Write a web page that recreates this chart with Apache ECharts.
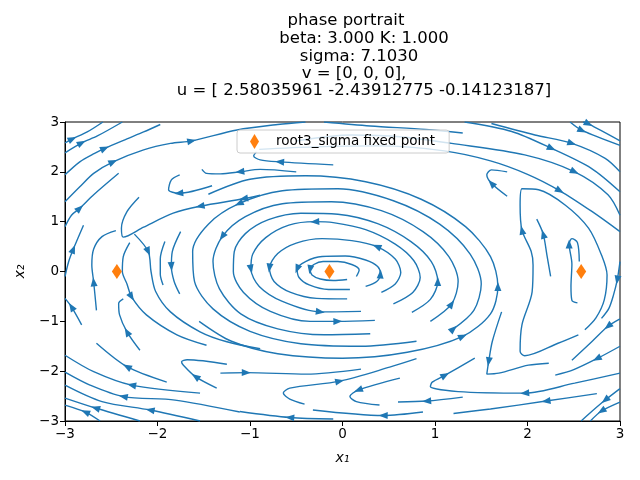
<!DOCTYPE html>
<html>
<head>
<meta charset="utf-8">
<script src="https://cdn.jsdelivr.net/npm/echarts@6/dist/echarts.min.js"></script>
<style>
  html, body { margin: 0; background: #fff; }
  #c { width: 640px; height: 480px; }
</style>
</head>
<body>
<div id="c"></div>
<script>
// 标题文字（多行）
const titleLines = [
    'phase portrait',
    'beta: 3.000 K: 1.000',
    'sigma: 7.1030',
    'v = [0, 0, 0],',
    'u = [ 2.58035961 -2.43912775 -0.14123187]'
]
const legendName = 'root3_sigma fixed point'
const xTicks = [-3, -2, -1, 0, 1, 2, 3]
const yTicks = [-3, -2, -1, 0, 1, 2, 3]

// 不动点 (x1, x2)
const fixedPoints = [[2.58035961, 0], [-2.43912775, 0], [-0.14123187, 0]]

// 流线：点 (x1, x2)，按流动方向排列
// 中心附近的环
const centerLoops = [
    [[0.15, -0.1], [0.18, 0.03], [0.1, 0.14], [-0.05, 0.2], [-0.21, 0.2], [-0.31, 0.14], [-0.35, 0.04], [-0.33, -0.07], [-0.24, -0.15], [-0.1, -0.18], [0.05, -0.16]],
    [[0.25, -0.3], [0.37, -0.2], [0.41, -0.05], [0.38, 0.1], [0.25, 0.23], [0.03, 0.31], [-0.22, 0.3], [-0.4, 0.2], [-0.49, 0.05], [-0.47, -0.12], [-0.36, -0.27], [-0.15, -0.36], [0.08, -0.36]],
    [[0.42, -0.42], [0.57, -0.25], [0.63, -0.02], [0.57, 0.25], [0.37, 0.5], [0.1, 0.62], [-0.22, 0.66], [-0.5, 0.57], [-0.7, 0.36], [-0.79, 0.07], [-0.74, -0.2], [-0.56, -0.42], [-0.28, -0.54], [0.05, -0.55]],
    [[0.55, -0.65], [0.76, -0.42], [0.84, -0.12], [0.77, 0.22], [0.57, 0.55], [0.25, 0.84], [-0.1, 0.98], [-0.3, 1.0], [-0.58, 0.93], [-0.83, 0.68], [-0.97, 0.35], [-0.99, 0.05], [-0.9, -0.3], [-0.65, -0.6], [-0.24, -0.81], [0.2, -0.8]],
    [[0.75, -0.82], [0.95, -0.56], [1.03, -0.2], [0.96, 0.2], [0.74, 0.6], [0.38, 0.96], [-0.05, 1.15], [-0.45, 1.17], [-0.8, 1.04], [-1.05, 0.76], [-1.17, 0.4], [-1.18, 0.0], [-1.07, -0.42], [-0.78, -0.8], [-0.35, -1.0], [-0.05, -1.0], [0.35, -0.98]],
    [[0.95, -1.0], [1.18, -0.65], [1.25, -0.2], [1.15, 0.3], [0.87, 0.8], [0.42, 1.22], [-0.12, 1.4], [-0.65, 1.36], [-1.05, 1.1], [-1.3, 0.7], [-1.4, 0.2], [-1.33, -0.35], [-1.1, -0.85], [-0.7, -1.15], [-0.2, -1.27], [0.3, -1.25]],
    [[1.2, -1.15], [1.42, -0.78], [1.5, -0.25], [1.38, 0.35], [1.05, 0.95], [0.55, 1.42], [-0.05, 1.66], [-0.65, 1.62], [-1.12, 1.36], [-1.45, 0.95], [-1.62, 0.4], [-1.6, -0.2], [-1.4, -0.75], [-1.0, -1.2], [-0.45, -1.45], [0.2, -1.5], [0.8, -1.4]],
    [[-1.55, -1.0], [-1.2, -1.4], [-0.7, -1.65], [0.0, -1.74], [0.7, -1.62], [1.3, -1.3], [1.6, -0.85], [1.68, -0.3], [1.6, 0.3], [1.33, 0.9], [0.85, 1.45], [0.25, 1.8], [-0.4, 1.92], [-1.0, 1.85], [-1.45, 1.55]]
]
const centerArrows = [[6], [2, 8], [4, 9], [7, 11, 14], [2, 15], [1, 9], [0, 8], [5, 7]]

// 左侧不动点附近
const leftLines = [
    [[-2.66, -0.78], [-2.69, -0.21], [-2.71, 0.13], [-2.69, 0.45], [-2.6, 0.7], [-2.45, 0.82]],
    [[-2.3, 0.58], [-2.37, 0.3], [-2.38, 0.0], [-2.33, -0.25], [-2.28, -0.51], [-2.12, -0.87], [-1.79, -1.27], [-1.47, -1.48]],
    [[-2.19, -1.58], [-2.33, -1.21], [-2.41, -0.87], [-2.42, -0.64], [-2.37, -0.55]],
    [[-2.25, 0.75], [-2.1, 0.4], [-2.07, 0.0], [-2.02, -0.4], [-1.86, -0.81], [-1.54, -1.21], [-1.25, -1.41], [-0.89, -1.55]],
    [[-1.92, 0.6], [-1.97, 0.25], [-1.97, -0.05], [-1.94, -0.27]],
    [[-1.75, 0.8], [-1.84, 0.4], [-1.85, 0.1], [-1.82, -0.2], [-1.76, -0.45]],
    [[-2.82, -1.07], [-2.93, -0.71], [-3.0, -0.54]],
    [[-3.0, -0.1], [-2.96, 0.2], [-2.91, 0.45], [-2.8, 0.93]],
    [[-3.0, 0.9], [-2.93, 1.13], [-2.84, 1.27], [-2.69, 1.54], [-2.42, 1.97]],
    [[-0.89, 1.53], [-1.07, 1.46], [-1.54, 1.31], [-1.83, 1.17], [-2.15, 0.89], [-2.37, 0.69], [-2.39, 0.87], [-2.33, 1.2], [-2.2, 1.49]],
    [[-1.41, 1.72], [-1.77, 1.57], [-1.88, 1.64], [-1.85, 1.84], [-1.76, 1.94]],
    [[-0.5, 2.0], [-0.89, 2.05], [-1.11, 2.0], [-1.32, 1.96], [-1.47, 1.97], [-1.52, 2.05]],
    [[-0.1, 2.14], [-0.68, 2.2], [-0.89, 2.24], [-0.96, 2.32], [-0.93, 2.4]]
]
const leftArrows = [[1], [4], [1], [1], [], [2], [1], [2], [2], [1, 2], [1], [2], [1]]

// 上方
const topLines = [
    [[-3, 2.58], [-2.92, 2.66], [-2.76, 2.8], [-2.59, 3.0]],
    [[-3, 2.38], [-2.82, 2.58], [-2.65, 2.72], [-2.38, 3.0]],
    [[-3, 1.94], [-2.84, 2.2], [-2.68, 2.37], [-2.57, 2.47], [-2.33, 2.66], [-2.15, 2.8], [-1.97, 2.95]],
    [[-3, 1.4], [-2.84, 1.7], [-2.69, 1.97], [-2.48, 2.2], [-2.15, 2.44], [-1.86, 2.57], [-1.63, 2.62], [-1.14, 2.84], [-0.7, 2.95], [-0.4, 3.0]],
    [[-0.9, 2.45], [-0.3, 2.5], [0.4, 2.52], [1.1, 2.42], [1.6, 2.22], [2.0, 1.95], [2.35, 1.62], [2.7, 1.2], [3.0, 0.8]],
    [[-0.5, 2.62], [0.1, 2.74], [0.65, 2.7], [1.18, 2.57], [1.97, 2.34], [2.51, 2.0], [2.87, 1.54], [3.0, 1.13]],
    [[-0.2, 3.0], [0.3, 2.92], [0.9, 2.85], [1.3, 2.78]],
    [[1.32, 3.0], [1.83, 2.81], [2.26, 2.47], [2.69, 2.07], [3.0, 1.6]],
    [[1.61, 2.97], [2.08, 2.74], [2.48, 2.57], [2.84, 2.27], [3.0, 2.0]],
    [[2.46, 3.0], [2.59, 2.83], [3.0, 2.53]],
    [[2.6, 3.0], [2.66, 2.96], [3.0, 2.62]],
    [[1.78, 1.51], [1.61, 1.77], [1.56, 1.94], [1.61, 2.04], [1.78, 2.0]]
]
const topArrows = [[1], [1], [3], [3, 6], [6], [5], [], [2], [2], [1], [1], [1]]

// 右侧不动点附近
const rightLines = [
    [[2.54, -0.63], [2.48, -0.58], [2.47, -0.3], [2.48, 0.15], [2.45, 0.55], [2.48, 0.66], [2.54, 0.58], [2.56, 0.2]],
    [[2.25, -0.1], [2.21, 0.33], [2.17, 0.75], [2.1, 1.05]],
    [[2.55, -1.27], [2.33, -1.44], [1.97, -1.69], [1.92, -1.6], [1.94, -1.07], [2.05, -0.41], [2.06, 0.13], [2.04, 0.4], [1.94, 0.83], [1.92, 1.33], [1.94, 1.66], [2.12, 1.64], [2.41, 1.33], [2.66, 0.87], [2.8, 0.33], [2.86, -0.07], [2.83, -0.57], [2.74, -0.93], [2.62, -1.17]],
    [[3.0, 0.2], [2.97, -0.17], [2.93, -0.47], [2.88, -0.74], [2.8, -0.94]],
    [[3.0, -0.95], [2.87, -1.1], [2.7, -1.4], [2.48, -1.78]],
    [[3.0, -1.5], [2.75, -1.75], [2.5, -1.97], [2.3, -2.08]],
    [[3.0, -2.04], [2.51, -2.24], [1.97, -2.44], [1.25, -2.41], [0.95, -2.31], [0.97, -2.22], [1.11, -2.08], [1.43, -1.74]],
    [[1.72, -0.81], [1.62, -1.4], [1.58, -1.81], [1.56, -2.06], [1.69, -2.04], [2.01, -1.88], [2.23, -1.84]],
    [[3.0, -2.35], [2.84, -2.58], [2.7, -2.8], [2.58, -3.0]],
    [[3.0, -2.62], [2.8, -2.8], [2.68, -3.0]],
    [[2.75, -2.45], [2.2, -2.6], [1.6, -2.76], [1.2, -2.85]]
]
const rightArrows = [[4], [2], [8], [1], [1], [1], [2, 6], [2], [1], [1], [1]]

// 下方
const bottomLines = [
    [[-0.41, -2.66], [-0.57, -2.56], [-0.64, -2.44], [-0.57, -2.34], [-0.03, -2.2], [0.51, -1.92], [0.8, -1.75]],
    [[0.62, -2.14], [0.17, -2.38], [0.08, -2.51], [0.15, -2.61], [0.4, -2.68]],
    [[1.3, -2.52], [0.91, -2.6], [0.6, -2.62]],
    [[0.87, -2.82], [0.44, -2.89], [-0.32, -2.78]],
    [[-0.1, -2.96], [-0.57, -2.93], [-1.11, -2.81]],
    [[-1.32, -2.04], [-1.04, -2.03], [-0.39, -2.06], [0.2, -1.96]],
    [[-1.36, -2.34], [-1.59, -2.11], [-1.72, -1.88], [-1.74, -1.81], [-1.68, -1.77], [-1.25, -1.86]],
    [[-1.9, -2.22], [-2.33, -1.91], [-2.66, -1.44]],
    [[-1.54, -2.44], [-2.28, -2.28], [-2.69, -2.01], [-3.0, -1.68]],
    [[-1.11, -2.82], [-1.81, -2.58], [-2.37, -2.51], [-2.73, -2.28], [-3.0, -2.02]],
    [[-1.54, -3.0], [-2.08, -2.78], [-2.6, -2.61], [-3.0, -2.28]],
    [[-2.19, -3.0], [-2.67, -2.74], [-3.0, -2.54]],
    [[-2.62, -3.0], [-2.78, -2.82], [-3.0, -2.68]]
]
const bottomArrows = [[4], [1], [1], [1], [1], [1], [1], [1], [1], [2], [1], [1], [1]]

const BLUE = '#1f77b4'
const ORANGE = '#ff7f0e'
const FONT = 'DejaVu Sans'

function tickLabel(v) {
    return (v < 0 ? '\u2212' : '') + Math.abs(v)
}

const allLines = [].concat(centerLoops, leftLines, topLines, rightLines, bottomLines)
const allArrows = [].concat(centerArrows, leftArrows, topArrows, rightArrows, bottomArrows)

const lineSeries = allLines.map(pts => ({
    type: 'line',
    data: pts,
    smooth: 0.3,
    showSymbol: false,
    silent: true,
    lineStyle: { color: BLUE, width: 1.4 },
    z: 2
}))

const pointSeries = {
    type: 'scatter',
    name: legendName,
    data: fixedPoints,
    symbol: 'diamond',
    symbolSize: [10, 15],
    itemStyle: { color: ORANGE, opacity: 1 },
    z: 6
}

const chart = echarts.init(document.getElementById('c'))
const option = {
    animation: false,
    backgroundColor: '#fff',
    grid: { left: 65, right: 20, top: 122, bottom: 59, show: true, borderColor: '#000', borderWidth: 1 },
    xAxis: {
        type: 'value', min: -3, max: 3, interval: 1,
        axisLine: { onZero: false, lineStyle: { color: '#000' } },
        axisTick: { length: 5, lineStyle: { color: '#000' } },
        splitLine: { show: false },
        axisLabel: { color: '#000', fontSize: 13.5, fontFamily: FONT, margin: 6, formatter: tickLabel },
        name: 'x\u2081', nameLocation: 'middle', nameGap: 30,
        nameTextStyle: { color: '#000', fontSize: 14, fontFamily: FONT, fontStyle: 'italic' }
    },
    yAxis: {
        type: 'value', min: -3, max: 3, interval: 1,
        axisLine: { onZero: false, lineStyle: { color: '#000' } },
        axisTick: { length: 5, lineStyle: { color: '#000' } },
        splitLine: { show: false },
        axisLabel: { color: '#000', fontSize: 13.5, fontFamily: FONT, margin: 6, formatter: tickLabel },
        name: 'x\u2082', nameLocation: 'middle', nameGap: 38, nameRotate: 90,
        nameTextStyle: { color: '#000', fontSize: 14, fontFamily: FONT, fontStyle: 'italic' }
    },
    legend: {
        data: [{ name: legendName, icon: 'diamond' }],
        left: 237, top: 130,
        itemWidth: 9, itemHeight: 15,
        padding: [4, 14, 4, 13],
        backgroundColor: 'rgba(255,255,255,0.8)',
        borderColor: '#cccccc', borderWidth: 1, borderRadius: 3,
        textStyle: { color: '#000', fontSize: 13.5, fontFamily: FONT, padding: [0, 0, 0, 12] }
    },
    graphic: titleLines.map((t, i) => ({
        type: 'text',
        x: [346, 364, 359, 354, 364][i],
        y: [21, 39, 57, 74, 91][i],
        style: { text: t, fill: '#000', font: '16.5px "DejaVu Sans"', textAlign: 'center', textVerticalAlign: 'middle' }
    })),
    series: lineSeries.concat([pointSeries])
}
chart.setOption(option)

// 计算箭头方向（像素坐标）
const arrowData = []
allLines.forEach((pts, k) => {
    allArrows[k].forEach(i => {
        const a = chart.convertToPixel({ gridIndex: 0 }, pts[Math.max(i - 1, 0)])
        const b = chart.convertToPixel({ gridIndex: 0 }, pts[Math.min(i + 1, pts.length - 1)])
        const ang = Math.atan2(-(b[1] - a[1]), b[0] - a[0]) * 180 / Math.PI
        arrowData.push({ value: pts[i], symbolRotate: ang - 90 })
    })
})

chart.setOption({
    series: lineSeries.concat([pointSeries, {
        type: 'scatter',
        name: 'arrows',
        data: arrowData,
        symbol: 'triangle',
        symbolSize: [7, 9],
        itemStyle: { color: BLUE, opacity: 1 },
        silent: true,
        z: 3
    }])
})
</script>
</body>
</html>
